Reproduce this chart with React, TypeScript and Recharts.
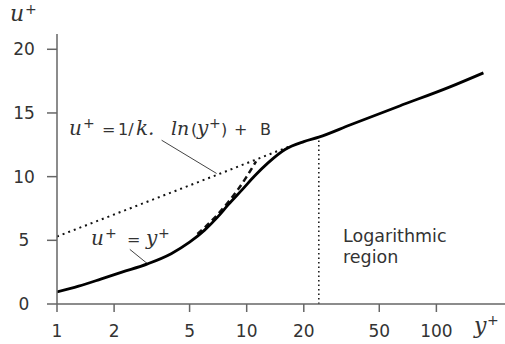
import { LineChart, Line, XAxis, YAxis, ReferenceLine } from "recharts";

// y+ tick values (log axis) and u+ ticks
const xTicks = [1, 2, 5, 10, 20, 50, 100];
const yTicks = [0, 5, 10, 15, 20];

// velocity profile
const profileYp = [1, 1.3, 1.7, 2.2, 3, 4, 5, 6, 7, 8, 9.5, 11, 13, 16, 20, 24, 35, 64, 118, 177];
const profileUp = [0.95, 1.4, 1.95, 2.5, 3.15, 3.95, 4.85, 5.8, 6.8, 7.8, 9.0, 10.05, 11.1, 12.15, 12.75, 13.1, 14.05, 15.55, 17.05, 18.15];

// log law (dotted)
const logYp = [1, 7, 17];
const logUp = [5.3, 10.15, 12.4];

// viscous sublayer u+ = y+ (dashed)
const linYp = [5.5, 6, 7, 8, 9, 10, 11.2];
const linUp = [5.5, 6, 7, 8, 9, 10, 11.2];

// start of the log region (vertical dotted)
const edgeYp = [24, 24];
const edgeUp = [0, 13.1];

const zip = (xs: number[], ys: number[]) => xs.map((x, i) => ({ yp: x, up: ys[i] }));

const axisColor = "#666";
const textColor = "#333";

function YTick(props: any) {
  const { y, payload } = props;
  return (
    <text x={24} y={y} dy={6} textAnchor="middle" fill={textColor} fontSize={17} fontFamily="DejaVu Sans">
      {payload.value}
    </text>
  );
}

function XTick(props: any) {
  const { x, y, payload } = props;
  return (
    <text x={x} y={y + 23} textAnchor="middle" fill={textColor} fontSize={17} fontFamily="DejaVu Sans">
      {payload.value}
    </text>
  );
}

const mathFont = { fontFamily: "DejaVu Serif", fontStyle: "italic" as const, fontSize: 20 };
const axisMath = { fontFamily: "DejaVu Serif", fontStyle: "italic" as const, fontSize: 22 };
const supFont = { fontFamily: "DejaVu Sans", fontSize: 14 };
const plain = { fontFamily: "DejaVu Sans", fontSize: 16 };

export default function App() {
  return (
    <div style={{ position: "absolute", left: 0, top: 0, width: 505, height: 344, background: "#fff" }}>
      <LineChart width={505} height={344} margin={{ top: 34, right: 0, bottom: 0, left: 0 }}>
        <XAxis
          dataKey="yp"
          type="number"
          scale="log"
          domain={[1, 230]}
          allowDataOverflow
          ticks={xTicks}
          height={40}
          tickSize={8}
          tick={<XTick />}
          stroke={axisColor}
          strokeWidth={1.5}
        />
        <YAxis
          type="number"
          domain={[0, 21.2]}
          ticks={yTicks}
          width={57}
          tickSize={10}
          tick={<YTick />}
          stroke={axisColor}
          strokeWidth={1.5}
        />
        <ReferenceLine segment={[{ x: 3.56, y: 12.86 }, { x: 6.94, y: 10.25 }]} stroke="#444" strokeWidth={1} />
        <ReferenceLine segment={[{ x: 2.42, y: 4.29 }, { x: 3.03, y: 3.11 }]} stroke="#444" strokeWidth={1} />
        <Line data={zip(logYp, logUp)} dataKey="up" type="linear" stroke="#111" strokeWidth={2} strokeDasharray="2 4" dot={false} isAnimationActive={false} />
        <Line data={zip(edgeYp, edgeUp)} dataKey="up" type="linear" stroke="#111" strokeWidth={1.5} strokeDasharray="1.5 3" dot={false} isAnimationActive={false} />
        <Line data={zip(linYp, linUp)} dataKey="up" type="monotone" stroke="#111" strokeWidth={2.5} strokeDasharray="6 4" dot={false} isAnimationActive={false} />
        <Line data={zip(profileYp, profileUp)} dataKey="up" type="monotone" stroke="#000" strokeWidth={2.8} dot={false} isAnimationActive={false} />
      </LineChart>
      <svg width={505} height={344} style={{ position: "absolute", left: 0, top: 0, pointerEvents: "none" }}>
        <g fill={textColor}>
          <text x={10} y={21} {...axisMath}>u</text>
          <text x={25} y={14} {...supFont}>+</text>

          <text x={69} y={135} {...mathFont}>u</text>
          <text x={83} y={128} {...supFont}>+</text>
          <text x={102} y={135} {...plain}>=</text>
          <text x={118} y={135} {...plain}>1/</text>
          <text x={136} y={135} {...mathFont}>k.</text>
          <text x={171} y={135} {...mathFont} fontSize={19}>ln</text>
          <text x={191} y={135} {...plain}>(</text>
          <text x={197} y={135} {...mathFont}>y</text>
          <text x={209} y={128} {...supFont}>+</text>
          <text x={221} y={135} {...plain}>)</text>
          <text x={234} y={135} {...plain}>+</text>
          <text x={260} y={135} {...plain}>B</text>

          <text x={91} y={245} {...mathFont}>u</text>
          <text x={105} y={238} {...supFont}>+</text>
          <text x={127} y={245} {...plain}>=</text>
          <text x={146} y={245} {...mathFont}>y</text>
          <text x={158} y={238} {...supFont}>+</text>

          <text x={343} y={242} fontFamily="DejaVu Sans" fontSize={17.5}>Logarithmic</text>
          <text x={343} y={263} fontFamily="DejaVu Sans" fontSize={17.5}>region</text>

          <text x={474} y={333} {...axisMath}>y</text>
          <text x={487} y={325} {...supFont}>+</text>
        </g>
      </svg>
    </div>
  );
}
